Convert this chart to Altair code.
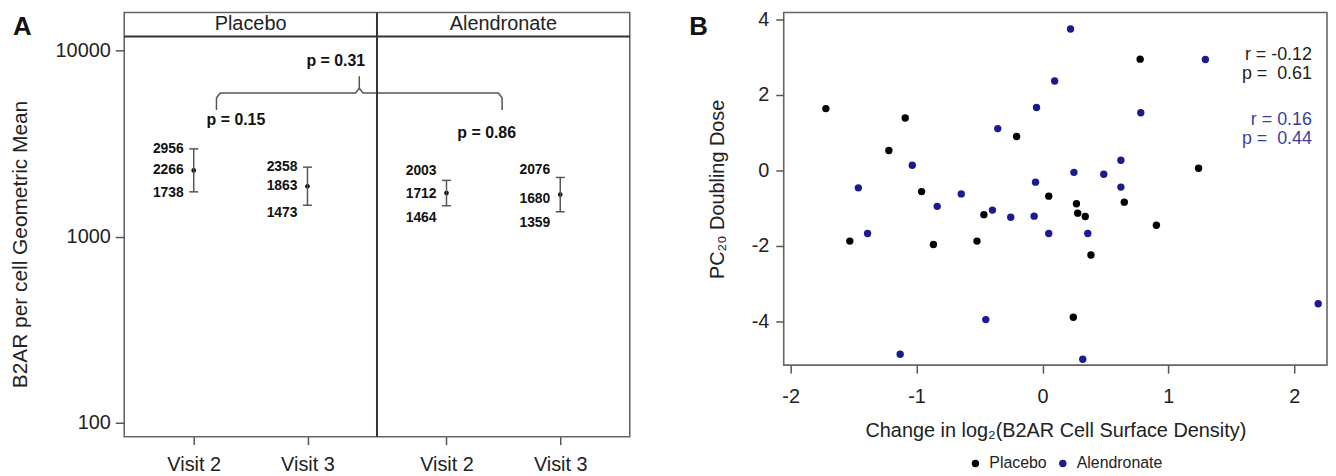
import altair as alt
import pandas as pd

# ---------------- Panel A values ----------------
a_groups = ["Placebo", "Placebo", "Alendronate", "Alendronate"]
a_visits = ["Visit 2", "Visit 3", "Visit 2", "Visit 3"]
a_mean = [2266, 1863, 1712, 1680]
a_lower = [1738, 1473, 1464, 1359]
a_upper = [2956, 2358, 2003, 2076]
a_panels = ["Placebo", "Alendronate"]
a_p_within = ["p = 0.15", "p = 0.86"]
a_p_between = ["p = 0.31"]
a_ticks = [100, 1000, 10000]

# ---------------- Panel B values ----------------
b_placebo_x = [-1.72, -1.09, -1.22, -0.205, -0.96, 0.05, -0.465, 0.27, 0.28, 0.34,
               0.65, 0.905, 1.24, 0.776, -1.53, -0.866, -0.52, 0.385, 0.245]
b_placebo_y = [1.64, 1.39, 0.53, 0.90, -0.56, -0.68, -1.17, -0.88, -1.13, -1.22,
               -0.84, -1.45, 0.06, 2.95, -1.87, -1.96, -1.87, -2.24, -3.89]
b_alen_x = [0.223, 1.294, 0.097, -0.047, 0.781, -0.355, -1.034, 0.623, 0.25, 0.487,
            -0.055, 0.623, -1.462, -0.645, -0.836, -0.397, -0.252, -0.066, -1.389,
            0.05, 0.36, -0.45, -1.13, 0.32, 2.19]
b_alen_y = [3.75, 2.94, 2.37, 1.67, 1.53, 1.11, 0.14, 0.27, -0.05, -0.10,
            -0.31, -0.44, -0.46, -0.62, -0.95, -1.05, -1.24, -1.21, -1.67,
            -1.67, -1.67, -3.95, -4.87, -5.0, -3.53]
b_stats_placebo = ["r = -0.12", "p = \u00a00.61"]
b_stats_alen = ["r = 0.16", "p = \u00a00.44"]

# ---------------- layout / style constants ----------------
FONT = "Liberation Sans"
BLUE_PT = "#1b1b8f"
BLUE_TXT = "#3d3d9c"
GREY = "#555555"

grp_index = {"Placebo": 0, "Alendronate": 1}
visit_frac = {"Visit 2": 0.55, "Visit 3": 1.45}
A_XDOM = [0, 4]
A_YDOM = [84.2, 15950]
STRIP_BOTTOM = 11874
STRIP_TEXT = 13760
# per label pixel nudges (upper, mean, lower) for each bar, to avoid overlaps
label_dy = [[0, 0, 1], [0, 0, 8], [-9, 1, 12], [-7, 4, 11]]

# ---------------- Panel A ----------------
dfA = pd.DataFrame({"group": a_groups, "visit": a_visits, "mean": a_mean,
                    "lo": a_lower, "hi": a_upper})
dfA["pos"] = [2 * grp_index[g] + visit_frac[v] for g, v in zip(a_groups, a_visits)]

tick_vals = sorted(dfA["pos"].tolist())

xA = alt.X("pos:Q", scale=alt.Scale(domain=A_XDOM, nice=False, zero=False),
           axis=alt.Axis(values=tick_vals, title=None, grid=False, domain=False,
                         labelExpr="(datum.value % 2) < 1 ? 'Visit 2' : 'Visit 3'",
                         tickSize=8, tickWidth=1.5, tickColor=GREY,
                         labelPadding=10, labelFontSize=20, labelColor="#222"))
yA = alt.Y("mean:Q", scale=alt.Scale(type="log", domain=A_YDOM, nice=False),
           axis=alt.Axis(values=a_ticks, format="d", grid=False, domain=False,
                         title="B2AR per cell Geometric Mean", titleFontSize=21,
                         titleFontWeight="normal", titleColor="#222",
                         titlePadding=25, titleY=233,
                         tickSize=9, tickWidth=1.5, tickColor=GREY,
                         labelPadding=5, labelFontSize=20, labelColor="#222"))

base = alt.Chart(dfA)
points = base.mark_circle(size=22, color="black", opacity=1).encode(x=xA, y=yA)
bars = base.mark_rule(color=GREY, strokeWidth=1.5).encode(x="pos:Q", y="lo:Q", y2="hi:Q")
cap_hi = base.mark_rule(color=GREY, strokeWidth=1.5, xOffset=-4.5, x2Offset=4.5).encode(
    x="pos:Q", x2="pos:Q", y="hi:Q")
cap_lo = base.mark_rule(color=GREY, strokeWidth=1.5, xOffset=-4.5, x2Offset=4.5).encode(
    x="pos:Q", x2="pos:Q", y="lo:Q")

# value labels
rows = []
for i in range(len(a_groups)):
    for j, val in enumerate([a_upper[i], a_mean[i], a_lower[i]]):
        rows.append({"pos": dfA["pos"][i], "val": val, "lab": str(val), "dy": label_dy[i][j]})
lab_df = pd.DataFrame(rows)
label_layers = []
for dy in sorted(lab_df["dy"].unique()):
    sub = lab_df[lab_df["dy"] == dy]
    label_layers.append(
        alt.Chart(sub).mark_text(align="right", baseline="middle", dx=-10, dy=int(dy),
                                 fontSize=14, fontWeight="bold", color="#111")
        .encode(x="pos:Q", y="val:Q", text="lab:N"))

# bracket (annotation geometry in data units)
br = pd.DataFrame({
    "bx": [0.73, 0.73, 0.76, 1.83, 1.86, 1.86, 1.86, 1.89, 2.96, 2.99, 2.99],
    "by": [4786, 5560, 5904, 5904, 6250, 7261, 6250, 5904, 5904, 5560, 4786],
})
br["ord"] = range(len(br))
bracket = alt.Chart(br).mark_line(color=GREY, strokeWidth=1.5).encode(
    x="bx:Q", y="by:Q", order="ord:Q")

pt = pd.DataFrame({"px": [0.884, 2.868, 1.674],
                   "py": [4233, 3578, 8810],
                   "txt": a_p_within + a_p_between})
ptext = alt.Chart(pt).mark_text(fontSize=16, fontWeight="bold", color="#111").encode(
    x="px:Q", y="py:Q", text="txt:N")

one = pd.DataFrame({"k": [0]})
strip_line = alt.Chart(one).mark_rule(color="#333", strokeWidth=2).encode(y=alt.datum(STRIP_BOTTOM))
divider = alt.Chart(one).mark_rule(color="#333", strokeWidth=2).encode(x=alt.datum(2))
strip_df = pd.DataFrame({"panel": a_panels, "cx": [1, 3]})
strip_txt = alt.Chart(strip_df).mark_text(fontSize=20, color="#222").encode(
    x="cx:Q", y=alt.datum(STRIP_TEXT), text="panel:N")
lab_A = alt.Chart(one).mark_text(text="A", fontSize=26, fontWeight="bold", align="left",
                                 baseline="alphabetic", color="#111").encode(
    x=alt.value(-112), y=alt.value(23))

panelA = alt.layer(points, bars, cap_hi, cap_lo, *label_layers, bracket, ptext,
                   strip_line, divider, strip_txt, lab_A).properties(width=509, height=427)

# ---------------- Panel B ----------------
dfB = pd.concat([
    pd.DataFrame({"x": b_placebo_x, "y": b_placebo_y, "grp": "Placebo"}),
    pd.DataFrame({"x": b_alen_x, "y": b_alen_y, "grp": "Alendronate"}),
], ignore_index=True)

minus_expr = "datum.value < 0 ? '-' + abs(datum.value) : '' + datum.value"
ptsB = alt.Chart(dfB).mark_circle(size=55, opacity=1).encode(
    x=alt.X("x:Q", scale=alt.Scale(domain=[-2.055, 2.26], nice=False, zero=False),
            axis=alt.Axis(values=[-2, -1, 0, 1, 2], labelExpr=minus_expr, grid=False,
                          domain=False, title="Change in log₂(B2AR Cell Surface Density)",
                          titleFontSize=20, titleFontWeight="normal", titleColor="#222",
                          titlePadding=14, tickSize=8, tickWidth=1.5, tickColor=GREY,
                          labelPadding=14, labelFontSize=20, labelColor="#222")),
    y=alt.Y("y:Q", scale=alt.Scale(domain=[-5.158, 4.184], nice=False, zero=False),
            axis=alt.Axis(values=[-4, -2, 0, 2, 4], labelExpr=minus_expr, grid=False,
                          domain=False, title="PC₂₀ Doubling Dose",
                          titleFontSize=20, titleFontWeight="normal", titleColor="#222",
                          titlePadding=24, tickSize=8, tickWidth=1.5, tickColor=GREY,
                          labelPadding=7, labelFontSize=20, labelColor="#222")),
    color=alt.Color("grp:N",
                    scale=alt.Scale(domain=["Placebo", "Alendronate"], range=["#000000", BLUE_PT]),
                    legend=alt.Legend(orient="none", legendX=185, legendY=446,
                                      direction="horizontal", title=None, labelFontSize=16,
                                      labelColor="#222", symbolType="circle", symbolSize=55,
                                      columnPadding=8, labelOffset=6, symbolStrokeWidth=0)),
)

stats = pd.DataFrame({"sx": [2.14, 2.14, 2.14, 2.14],
                      "sy": [3.05, 2.55, 1.34, 0.84],
                      "txt": b_stats_placebo + b_stats_alen,
                      "which": ["Placebo", "Placebo", "Alendronate", "Alendronate"]})
stat_txt_p = alt.Chart(stats[stats["which"] == "Placebo"]).mark_text(
    align="right", fontSize=18, color="#222").encode(x="sx:Q", y="sy:Q", text="txt:N")
stat_txt_a = alt.Chart(stats[stats["which"] == "Alendronate"]).mark_text(
    align="right", fontSize=18, color=BLUE_TXT).encode(x="sx:Q", y="sy:Q", text="txt:N")
lab_B = alt.Chart(one).mark_text(text="B", fontSize=26, fontWeight="bold", align="left",
                                 baseline="alphabetic", color="#111").encode(
    x=alt.value(-95), y=alt.value(23))

panelB = alt.layer(ptsB, stat_txt_p, stat_txt_a, lab_B).properties(width=547, height=355)

chart = alt.hconcat(panelA, panelB, spacing=57).resolve_legend(
    color="independent").resolve_scale(color="independent").properties(
    padding={"left": 0, "top": -1, "right": 0, "bottom": 0}
).configure(font=FONT).configure_view(stroke="#666", strokeWidth=1.6)

chart.save("out.html", embed_options={"renderer": "svg", "actions": False})
